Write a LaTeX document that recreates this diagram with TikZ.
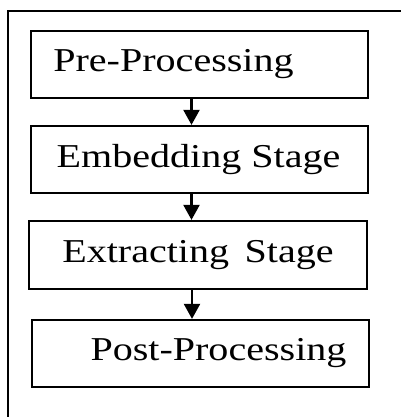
\documentclass[tikz,border=0pt]{standalone}
\usepackage{fontspec}
\setmainfont{Liberation Serif}
\newfontfamily\stagefont[FakeStretch=1.2]{Liberation Serif}
\usetikzlibrary{arrows.meta}

\tikzset{
stagebox/.style={
draw,
line width=1.3pt,
minimum width=6.74cm,
minimum height=1.34cm
},
stagetext/.style={
font=\stagefont\fontsize{19}{23}\selectfont,
inner sep=0pt
},
flow/.style={
line width=1.3pt,
-{Triangle[width=0.32cm,length=0.3cm]}
}
}

\begin{document}
\begin{tikzpicture}[x=0.02cm,y=-0.02cm]

\useasboundingbox (0,0) rectangle (401,417);
\clip (0,0) rectangle (401,417);

%%%%%%%%%%%%%%%%%%%%%%%%%%%%%%%%%%%%%%%%%%%%%%%%%%%%%%
% OUTER FRAME
%%%%%%%%%%%%%%%%%%%%%%%%%%%%%%%%%%%%%%%%%%%%%%%%%%%%%%

\draw[line width=1.3pt] (8,440) -- (8,11) -- (440,11);

%%%%%%%%%%%%%%%%%%%%%%%%%%%%%%%%%%%%%%%%%%%%%%%%%%%%%%
% Pre-Processing
%%%%%%%%%%%%%%%%%%%%%%%%%%%%%%%%%%%%%%%%%%%%%%%%%%%%%%

\node[stagebox] (pre) at (199.5,64.5) {};

\node[stagetext]
at ([xshift=-0.52cm]pre.center)
{Pre-Processing};

%%%%%%%%%%%%%%%%%%%%%%%%%%%%%%%%%%%%%%%%%%%%%%%%%%%%%%
% Embedding
%%%%%%%%%%%%%%%%%%%%%%%%%%%%%%%%%%%%%%%%%%%%%%%%%%%%%%

\node[stagebox] (embed) at (199.5,159.5) {};

\node[stagetext]
at ([xshift=-0.02cm]embed.center)
{Embedding Stage};

%%%%%%%%%%%%%%%%%%%%%%%%%%%%%%%%%%%%%%%%%%%%%%%%%%%%%%
% Extracting
%%%%%%%%%%%%%%%%%%%%%%%%%%%%%%%%%%%%%%%%%%%%%%%%%%%%%%

\node[stagebox,minimum width=6.76cm,minimum height=1.36cm] (extract) at (198,255) {};

\node[stagetext]
at (extract.center)
{Extracting\, Stage};

%%%%%%%%%%%%%%%%%%%%%%%%%%%%%%%%%%%%%%%%%%%%%%%%%%%%%%
% Post-Processing
%%%%%%%%%%%%%%%%%%%%%%%%%%%%%%%%%%%%%%%%%%%%%%%%%%%%%%

\node[stagebox] (post) at (200.5,353.5) {};

\node[stagetext]
at ([xshift=0.36cm]post.center)
{Post-Processing};

%%%%%%%%%%%%%%%%%%%%%%%%%%%%%%%%%%%%%%%%%%%%%%%%%%%%%%
% ARROWS
%%%%%%%%%%%%%%%%%%%%%%%%%%%%%%%%%%%%%%%%%%%%%%%%%%%%%%

\draw[flow] ([xshift=-0.16cm]pre.south) -- ([xshift=-0.16cm]pre.south |- embed.north);
\draw[flow] ([xshift=-0.16cm]embed.south) -- ([xshift=-0.16cm]embed.south |- extract.north);
\draw[flow] ([xshift=-0.12cm]extract.south) -- ([xshift=-0.12cm]extract.south |- post.north);

\end{tikzpicture}
\end{document}
